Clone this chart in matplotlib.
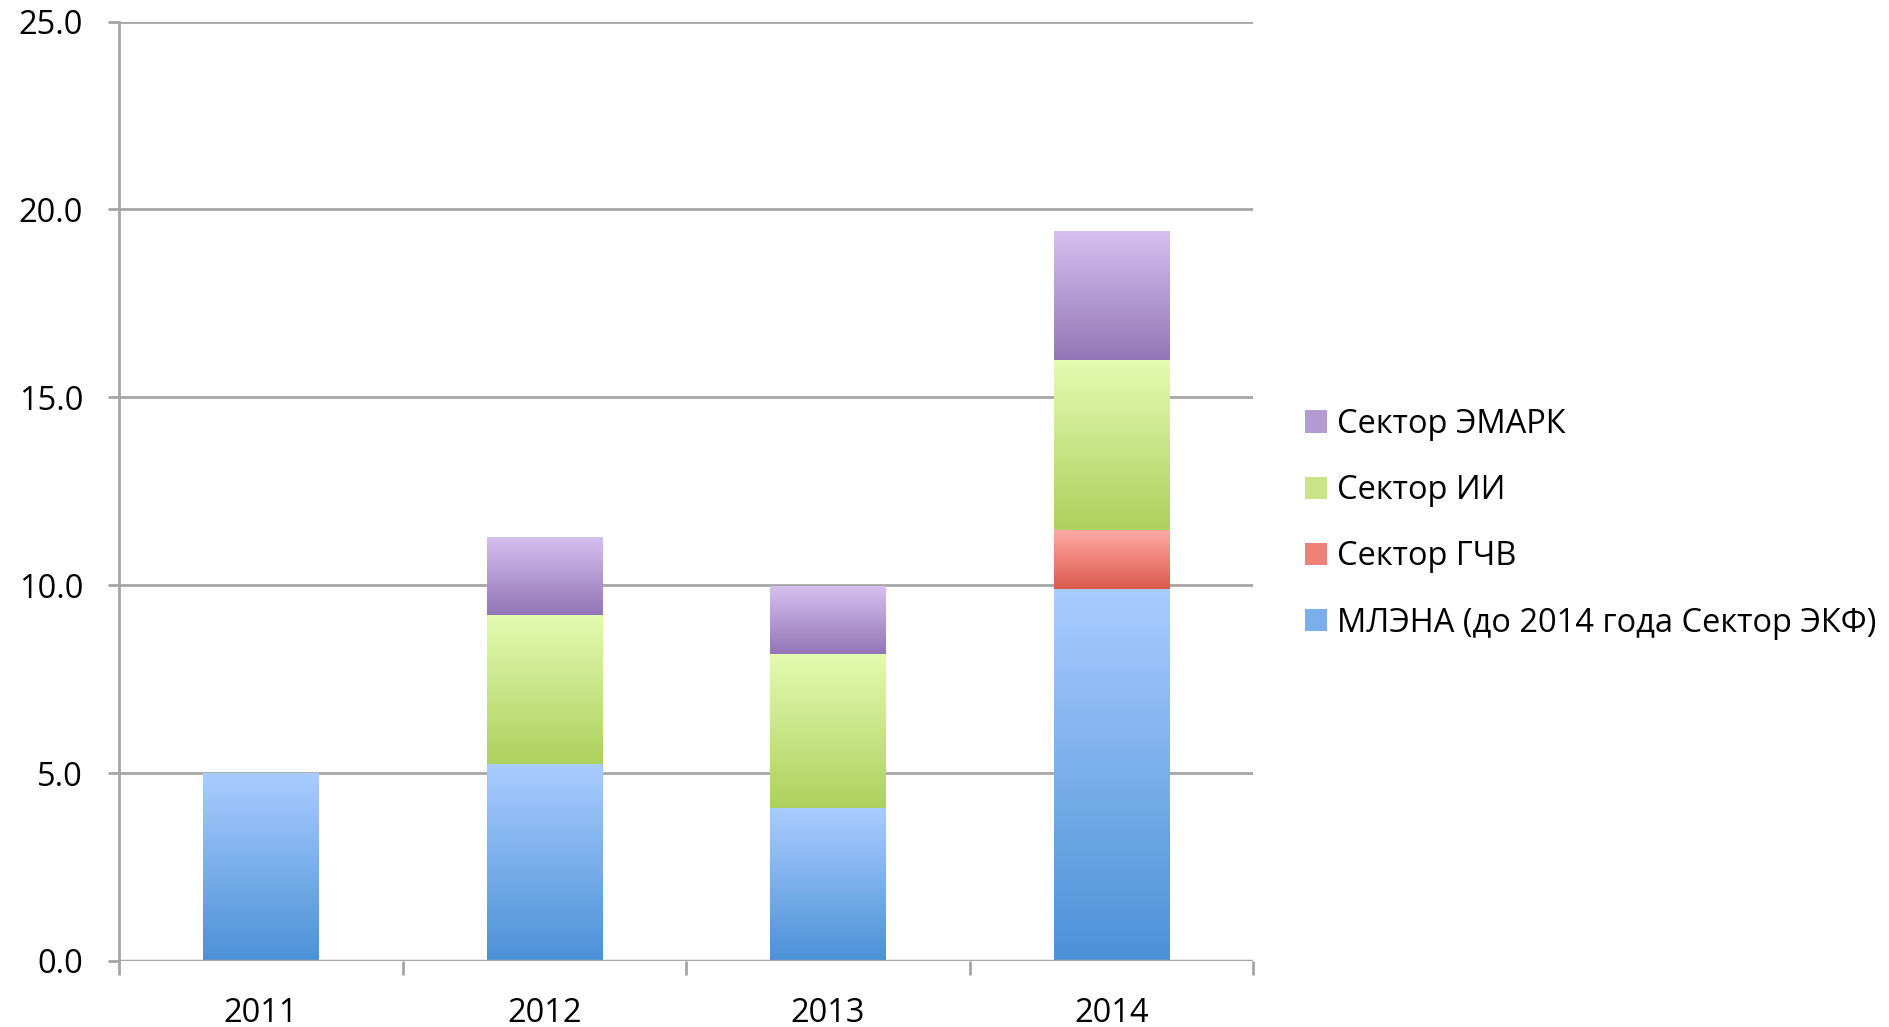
import numpy as np
import matplotlib
matplotlib.use("Agg")
import matplotlib.pyplot as plt
from matplotlib.colors import to_rgb
from matplotlib.patches import Patch

plt.rcParams['font.family'] = ['Open Sans', 'DejaVu Sans']

years = ["2011", "2012", "2013", "2014"]
mlena = [5.0, 5.23, 4.06, 9.9]
gchv = [0.0, 0.0, 0.0, 1.57]
ii = [0.0, 3.97, 4.11, 4.52]
emark = [0.0, 2.05, 1.79, 3.43]

series = [
    ("МЛЭНА (до 2014 года Сектор ЭКФ)", mlena, "#A9CCFF", "#4B91D7"),
    ("Сектор ГЧВ", gchv, "#FFA9A5", "#DC5A4C"),
    ("Сектор ИИ", ii, "#E4FBB1", "#ADD05E"),
    ("Сектор ЭМАРК", emark, "#D5C0EF", "#9375B7"),
]

fig = plt.figure(figsize=(18.9, 10.27), dpi=100)
ax = fig.add_axes([0.063, 0.0643, 0.6, 0.9147])

x = np.arange(len(years))
bottom = np.zeros(len(years))
handles = []
for name, vals, top_c, bot_c in series:
    vals = np.array(vals)
    bars = ax.bar(x, vals, 0.406, bottom=bottom, facecolor="none", edgecolor="none", zorder=2)
    t = np.array(to_rgb(top_c))
    b = np.array(to_rgb(bot_c))
    # vertical gradient, light on top, darker at the bottom of each segment
    grad = np.linspace(0, 1, 256)[:, None, None] * (b - t) + t
    for p in bars:
        h = p.get_height()
        if h <= 0:
            continue
        x0, y0, w = p.get_x(), p.get_y(), p.get_width()
        ax.imshow(grad, extent=[x0, x0 + w, y0, y0 + h], aspect="auto",
                  origin="upper", zorder=2, interpolation="bilinear")
    bottom = bottom + vals
    handles.append(Patch(facecolor=tuple((t + b) / 2), edgecolor="none", label=name))

ax.set_xlim(-0.5, 3.5)
ax.set_ylim(0, 25)
ax.set_aspect("auto")
ax.set_yticks([0, 5, 10, 15, 20, 25])
ax.set_yticklabels(["0.0", "5.0", "10.0", "15.0", "20.0", "25.0"])
ax.set_xticks(x)
ax.set_xticklabels(years)
ax.set_xticks([-0.5, 0.5, 1.5, 2.5, 3.5], minor=True)

grid_c = "#A6A6A6"
ax.yaxis.grid(True, color=grid_c, lw=2)
ax.set_axisbelow(True)
for s in ["top", "right", "bottom"]:
    ax.spines[s].set_visible(False)
ax.spines["left"].set_color(grid_c)
ax.spines["left"].set_linewidth(2)
ax.axhline(0, color=grid_c, lw=2.5, zorder=3)

ax.tick_params(axis="y", length=8, width=2, color=grid_c, labelsize=23.5, pad=18)
ax.tick_params(axis="x", which="major", length=0, labelsize=23.5, pad=26)
ax.tick_params(axis="x", which="minor", length=10, width=2, color=grid_c)

fig.legend(handles=handles[::-1], loc="center left", bbox_to_anchor=(0.6905, 0.490),
           frameon=False, fontsize=23.5, handlelength=0.675, handleheight=0.675,
           handletextpad=0.29, labelspacing=1.02, borderpad=0, borderaxespad=0)

fig.savefig("out.png", dpi=100)
